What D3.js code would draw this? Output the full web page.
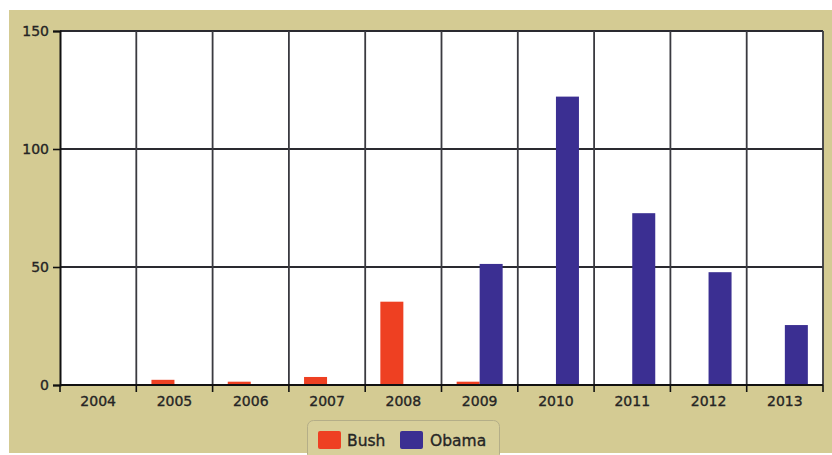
<!DOCTYPE html>
<html><head><meta charset="utf-8">
<script src="https://cdn.jsdelivr.net/npm/d3@7"></script>
<style>body{margin:0;background:#fff;}svg{display:block;}</style>
</head><body>
<script>
const years = ["2004","2005","2006","2007","2008","2009","2010","2011","2012","2013"];
const seriesNames = ["Bush","Obama"];
const bushValues = [0, 2.2, 1.4, 3.4, 35.3, 1.4, 0, 0, 0, 0];
const obamaValues = [0, 0, 0, 0, 0, 51.3, 122.2, 72.8, 47.8, 25.4];
const yTicks = [0, 50, 100, 150];
const colors = ["#ee4022", "#3b2f92"];

const W = 832, H = 455;
const svg = d3.select("body").append("svg").attr("width", W).attr("height", H);
svg.append("rect").attr("x", 9).attr("y", 10).attr("width", W - 9).attr("height", 443).attr("fill", "#d4cb93");

const m = {l: 60, t: 31, r: 823, b: 385};
const x = d3.scaleBand().domain(years).range([m.l, m.r]).padding(0);
const y = d3.scaleLinear().domain([0, 150]).range([m.b, m.t]);
const inner = d3.scaleBand().domain(seriesNames).range([0, 46]);

svg.append("rect").attr("x", m.l).attr("y", m.t).attr("width", m.r - m.l).attr("height", m.b - m.t).attr("fill", "#fff");

// grid
const g = svg.append("g");
g.selectAll(".hg").data(yTicks.filter(d => d > 0)).join("line")
  .attr("x1", m.l).attr("x2", m.r).attr("y1", d => y(d)).attr("y2", d => y(d))
  .attr("stroke", "#2a2a30").attr("stroke-width", 1.8);
g.selectAll(".vg").data(years.slice(1)).join("line")
  .attr("x1", d => x(d)).attr("x2", d => x(d)).attr("y1", m.t).attr("y2", m.b)
  .attr("stroke", "#3a3a40").attr("stroke-width", 1.8);
g.append("line").attr("x1", m.r).attr("x2", m.r).attr("y1", m.t).attr("y2", m.b).attr("stroke", "#3a3a40").attr("stroke-width", 1.8);

// bars
const data = years.map((yr, i) => ({yr, vals: [bushValues[i], obamaValues[i]]}));
const groups = svg.selectAll(".grp").data(data).join("g")
  .attr("transform", d => `translate(${x(d.yr) + x.bandwidth()/2 - 23},0)`);
groups.selectAll("rect").data(d => d.vals.map((v, k) => ({v, k}))).join("rect")
  .filter(d => d.v > 0)
  .attr("x", d => inner(seriesNames[d.k])).attr("width", inner.bandwidth())
  .attr("y", d => y(d.v)).attr("height", d => y(0) - y(d.v))
  .attr("fill", d => colors[d.k]);

// axes
const yAxis = svg.append("g").attr("transform", `translate(${m.l},0)`)
  .call(d3.axisLeft(y).tickValues(yTicks).tickSize(7).tickPadding(4));
const xAxis = svg.append("g").attr("transform", `translate(0,${m.b})`)
  .call(d3.axisBottom(x).tickSize(0).tickPadding(11));
// x ticks at band boundaries
svg.append("g").selectAll("line").data(years.concat(["end"])).join("line")
  .attr("x1", (d,i) => m.l + i * x.step()).attr("x2", (d,i) => m.l + i * x.step())
  .attr("y1", m.b).attr("y2", m.b + 7).attr("stroke", "#111").attr("stroke-width", 1.6);
[yAxis, xAxis].forEach(a => {
  a.selectAll(".domain").attr("stroke", "#111").attr("stroke-width", 2);
  a.selectAll("line").attr("stroke", "#111").attr("stroke-width", 1.6);
  a.selectAll("text").attr("fill", "#252525").attr("stroke", "#252525").attr("stroke-width", 0.35)
    .attr("font-family", "DejaVu Sans, sans-serif").attr("font-size", 14);
});
xAxis.select(".domain").attr("d", `M${m.l},0H${m.r}`);

// legend
const lg = svg.append("g");
lg.append("rect").attr("x", 307.5).attr("y", 420.5).attr("width", 192).attr("height", 40).attr("rx", 6)
  .attr("fill", "#d7cf9a").attr("stroke", "#b4ae88").attr("stroke-width", 1);
const items = [{name: "Bush", c: colors[0], x: 318, tx: 347}, {name: "Obama", c: colors[1], x: 400, tx: 430}];
items.forEach(it => {
  lg.append("rect").attr("x", it.x).attr("y", 431).attr("width", 23).attr("height", 18).attr("rx", 2).attr("fill", it.c);
  lg.append("text").attr("x", it.tx).attr("y", 446).text(it.name)
    .attr("font-family", "DejaVu Sans, sans-serif").attr("font-size", 15.5)
    .attr("fill", "#252525").attr("stroke", "#252525").attr("stroke-width", 0.35);
});
</script>
</body></html>
